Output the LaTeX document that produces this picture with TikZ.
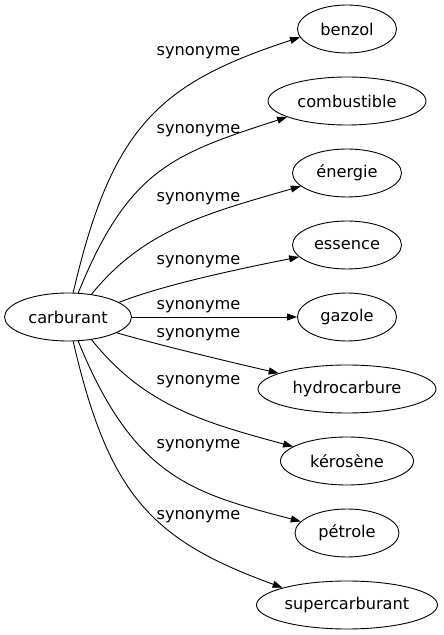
\documentclass[tikz,border=0pt]{standalone}
\usepackage{fontspec}
\setmainfont{DejaVu Sans}
\usetikzlibrary{arrows.meta, shapes.geometric}

\tikzset{
  word/.style={draw, ellipse, inner sep=0pt, minimum height=48pt, line width=0.9pt,
    font=\fontsize{16.2}{19}\selectfont},
  rel/.style={inner sep=0pt, font=\fontsize{16.2}{19}\selectfont},
  syn/.style={line width=0.9pt, -{Triangle[length=10pt,width=7pt]}}
}

\begin{document}
\begin{tikzpicture}[x=1pt,y=1pt]
\useasboundingbox (0,0) rectangle (444,635);

\node[word, minimum width=127pt] (carburant) at (68,318) {carburant};
\foreach \n/\t/\w/\y in {benzol/benzol/99/606, combustible/combustible/158/534,
    energie/énergie/109/462, essence/essence/109/390, gazole/gazole/99/318,
    hydrocarbure/hydrocarbure/178/246, kerosene/kérosène/133/174,
    petrole/pétrole/104/102, supercarburant/supercarburant/181/30}
  \node[word, minimum width=\w pt] (\n) at (347,\y) {\t};

% edge labels
\foreach \i/\y in {1/582, 2/504, 3/436, 4/373, 5/328, 6/300, 7/253, 8/189, 9/118}
  \node[rel] (lab\i) at (198.5,\y) {synonyme};

\draw[syn] (carburant.78) .. controls (111.6,507.3) and (157.9,551.4) .. (benzol.190);
\draw[syn] (carburant.67) .. controls (128.9,466.9) and (174.3,481.2) .. (combustible.195);
\draw[syn] (carburant.44) .. controls (143.1,404.6) and (205.5,421.4) .. (energie.196);
\draw[syn] (carburant.16) .. controls (166.1,351.3) and (251,368.5) .. (essence.194);
\draw[syn] (carburant) -- (gazole);
\draw[syn] (carburant.-18) .. controls (163.8,288.7) and (231.3,272.7) .. (hydrocarbure.167);
\draw[syn] (carburant.-44) .. controls (143.1,231.4) and (197.5,214.1) .. (kerosene.165);
\draw[syn] (carburant.-67) .. controls (134.1,155.7) and (194.8,141.5) .. (petrole.166);
\draw[syn] (carburant.-78) .. controls (109,138.6) and (152.4,94.8) .. (supercarburant.165);
\end{tikzpicture}
\end{document}
